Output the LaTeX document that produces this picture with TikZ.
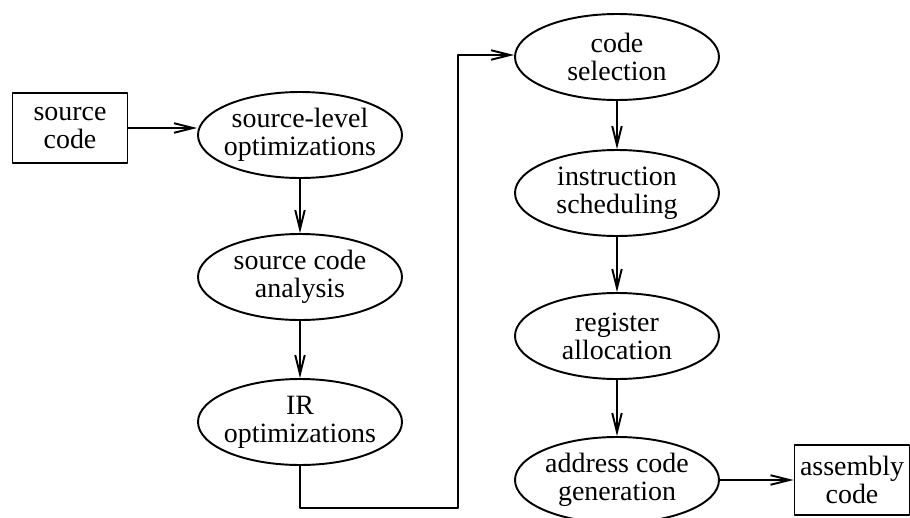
\documentclass[tikz,border=0pt]{standalone}
\usepackage{fontspec}
\setmainfont{Liberation Serif}
\usetikzlibrary{shapes.geometric,arrows.meta}
\begin{document}
\begin{tikzpicture}[line join = round, line width=1.1pt,>={Straight Barb[length=3.8mm,width=1.9mm]},font=\fontsize{15.9}{16}\selectfont,
	stage/.style={draw,ellipse,minimum width=4.08cm,minimum height=1.72cm,inner xsep=-0.17cm,inner ysep=0pt,align=center},
	file/.style={draw,rectangle,minimum width=2.3cm,minimum height=1.4cm,inner sep=0pt,align=center}]
	\useasboundingbox (0,0) rectangle (18.2,-10.36);
	\node[file](src) at (1.4,-2.56) {source\\code};
	\node[stage](slo) at (6,-2.7) {source-level\\optimizations};
	\node[stage](sca) at (6,-5.54) {source code\\analysis};
	\node[stage](iro) at (6,-8.44) {IR\\optimizations};
	\node[stage](cs) at (12.34,-1.14) {code\\selection};
	\node[stage](is) at (12.34,-3.86) {instruction\\scheduling};
	\node[stage](ra) at (12.34,-6.72) {register\\allocation};
	\node[stage](acg) at (12.34,-9.6) {address code\\generation};
	\node[file](asm) at (17.04,-9.6) {assembly\\code};
	\coordinate(T1) at (6,-10.16);
	\coordinate(T2) at (9.16,-10.16);
	\coordinate(T3) at (9.16,-1.1);
	\draw[->] (src.east)--(src.east -| slo.west);
	\draw[->] (slo)--(sca);
	\draw[->] (sca)--(iro);
	\draw[->] (iro.south)--(T1)--(T2)--(T3)--(T3 -| cs.west);
	\draw[->] (cs)--(is);
	\draw[->] (is)--(ra);
	\draw[->] (ra)--(acg);
	\draw[->] (acg)--(asm);
\end{tikzpicture}
\end{document}
